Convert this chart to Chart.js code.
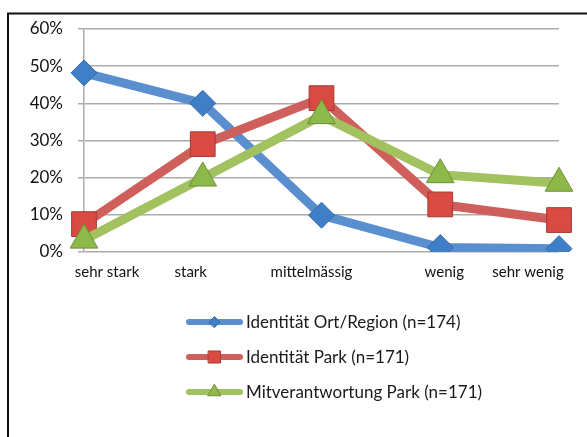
<!DOCTYPE html>
<html>
<head>
<meta charset="utf-8">
<script src="https://cdn.jsdelivr.net/npm/chart.js@4/dist/chart.umd.min.js"></script>
<style>
  html, body { margin: 0; padding: 0; background: #fff; }
  #wrap { position: relative; width: 587px; height: 437px; }
</style>
</head>
<body>
<div id="wrap"><canvas id="chart" width="587" height="437"></canvas></div>
<script>
// Antwortkategorien (x-Achse)
const kategorien = ['sehr stark', 'stark', 'mittelmässig', 'wenig', 'sehr wenig'];

// Anteile in Prozent je Serie
const identitaetOrt = [48.2, 40, 9.9, 1.2, 0.9];
const identitaetPark = [7.5, 29, 41.4, 12.8, 8.6];
const mitverantwortung = [3.2, 19.9, 36.7, 20.8, 18.5];

const serienNamen = [
  'Identität Ort/Region (n=174)',
  'Identität Park (n=171)',
  'Mitverantwortung Park (n=171)'
];

// y-Achse 0% .. 60%
const yTicks = [0, 10, 20, 30, 40, 50, 60];

const schrift = 'Lato, "Open Sans", sans-serif';

// Beschriftungen der Kategorien sitzen nicht mittig unter den Punkten
const labelVersatz = [23, -12, -10, 4, -31];

// Rahmen um das Diagramm (läuft rechts und unten aus dem Bild)
const rahmenPlugin = {
  id: 'rahmen',
  beforeDraw(chart) {
    const ctx = chart.ctx;
    ctx.save();
    ctx.strokeStyle = '#111';
    ctx.lineWidth = 2;
    ctx.strokeRect(8, 13.5, chart.width + 20, chart.height + 20);
    ctx.restore();
  }
};

// Kategorienbeschriftung unter der x-Achse
const kategorienPlugin = {
  id: 'kategorien',
  afterDraw(chart) {
    const ctx = chart.ctx;
    const xs = chart.scales.x;
    ctx.save();
    ctx.fillStyle = '#111';
    ctx.font = '15px ' + schrift;
    ctx.textAlign = 'center';
    ctx.textBaseline = 'middle';
    chart.data.labels.forEach((lab, i) => {
      ctx.fillText(lab, xs.getPixelForValue(i) + labelVersatz[i], chart.chartArea.bottom + 20);
    });
    ctx.restore();
  }
};

// Legende untereinander, unterhalb der Zeichenfläche
const legendePlugin = {
  id: 'legendeUnten',
  afterDraw(chart) {
    const ctx = chart.ctx;
    const area = chart.chartArea;
    const x0 = 186;
    const linie = 57;
    ctx.save();
    chart.data.datasets.forEach((ds, i) => {
      const y = area.bottom + 70 + i * 35;
      ctx.strokeStyle = ds.borderColor;
      ctx.lineWidth = 6;
      ctx.lineCap = 'round';
      ctx.beginPath();
      ctx.moveTo(x0 + 3, y);
      ctx.lineTo(x0 + linie - 3, y);
      ctx.stroke();

      ctx.fillStyle = ds.pointBackgroundColor;
      ctx.strokeStyle = ds.pointBorderColor;
      ctx.lineWidth = 1;
      Chart.helpers.drawPoint(ctx, {
        pointStyle: ds.pointStyle,
        radius: ds.legendRadius,
        rotation: 0,
        borderWidth: 1
      }, x0 + linie / 2, y);

      ctx.fillStyle = '#1a1a1a';
      ctx.font = '17px ' + schrift;
      ctx.textAlign = 'left';
      ctx.textBaseline = 'middle';
      ctx.fillText(ds.label, x0 + linie + 3, y + 1);
    });
    ctx.restore();
  }
};

const unterKante = { left: false, top: false, right: false, bottom: 0 };

new Chart(document.getElementById('chart'), {
  type: 'line',
  data: {
    labels: kategorien,
    datasets: [
      {
        label: serienNamen[0],
        data: identitaetOrt,
        borderColor: '#5a8fcf',
        borderWidth: 9,
        pointStyle: 'rectRot',
        pointRadius: 13,
        legendRadius: 5.5,
        pointBackgroundColor: '#3f7fc8',
        pointBorderColor: '#3a6aa0',
        pointBorderWidth: 1,
        tension: 0,
        order: 2,
        clip: unterKante
      },
      {
        label: serienNamen[1],
        data: identitaetPark,
        borderColor: '#cf5f5a',
        borderWidth: 9,
        pointStyle: 'rect',
        pointRadius: 17.5,
        legendRadius: 8.5,
        pointBackgroundColor: '#d94a42',
        pointBorderColor: '#a53a35',
        pointBorderWidth: 1,
        tension: 0,
        order: 1,
        clip: unterKante
      },
      {
        label: serienNamen[2],
        data: mitverantwortung,
        borderColor: '#a1c25f',
        borderWidth: 9,
        pointStyle: 'triangle',
        pointRadius: 16,
        legendRadius: 7.5,
        pointBackgroundColor: '#8db84a',
        pointBorderColor: '#6e8f38',
        pointBorderWidth: 1,
        tension: 0,
        order: 0,
        clip: unterKante
      }
    ]
  },
  options: {
    responsive: false,
    animation: false,
    events: [],
    layout: { padding: { left: 0, right: 28, top: 29, bottom: 0 } },
    plugins: {
      legend: { display: false },
      tooltip: { enabled: false }
    },
    scales: {
      x: {
        offset: false,
        grid: { display: false, drawTicks: false },
        border: { display: false },
        ticks: { display: false },
        afterFit(s) {
          s.height = 185;
          s.paddingLeft = 0;
          s.paddingRight = 0;
        }
      },
      y: {
        min: yTicks[0],
        max: yTicks[yTicks.length - 1],
        afterBuildTicks(s) {
          s.ticks = yTicks.map(v => ({ value: v }));
        },
        grid: {
          color: '#ababab',
          lineWidth: 1.5,
          drawTicks: true,
          tickLength: 6
        },
        border: { display: true, color: '#ababab', width: 1.5 },
        ticks: {
          padding: 15,
          color: '#111',
          font: { family: schrift, size: 17 },
          callback: v => v + '%'
        },
        afterFit(s) {
          s.width = 84;
        }
      }
    }
  },
  plugins: [rahmenPlugin, kategorienPlugin, legendePlugin]
});
</script>
</body>
</html>
